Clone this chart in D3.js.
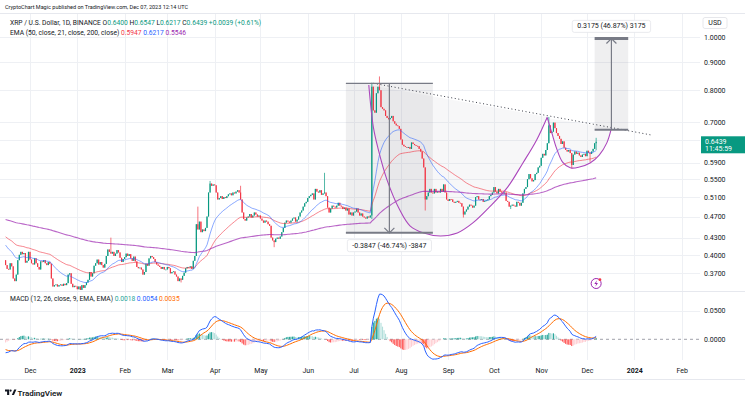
<!DOCTYPE html>
<html><head><meta charset="utf-8">
<script src="https://cdn.jsdelivr.net/npm/d3@7"></script>
<style>
body{margin:0;background:#fff;overflow:hidden}
svg{display:block;font-family:Roboto,"Noto Sans",sans-serif}
</style>
</head><body>
<svg id="c" width="745" height="399"></svg>
<script>
// ---------------- DATA ----------------
const startDate = "2022-11-15";
const firstOpen = 0.391;
const closeNov22 = [0.383,0.377,0.376,0.386,0.381,0.362,0.358,0.368,0.391,0.400,0.405,0.401,0.403,0.387,0.390,0.405];
const closeDec22 = [0.392,0.386,0.384,0.394,0.386,0.380,0.376,0.389,0.388,0.391,0.386,0.383,0.388,0.385,0.362,0.350,0.352,0.353,0.350,0.352,0.353,0.351,0.354,0.352,0.355,0.368,0.370,0.354,0.349,0.351,0.350];
const closeJan23 = [0.346,0.350,0.345,0.352,0.348,0.352,0.356,0.360,0.372,0.365,0.370,0.382,0.386,0.392,0.384,0.388,0.383,0.379,0.385,0.398,0.409,0.405,0.402,0.405,0.398,0.402,0.408,0.404,0.395,0.388,0.393];
const closeFeb23 = [0.396,0.402,0.398,0.401,0.394,0.390,0.397,0.389,0.380,0.378,0.379,0.376,0.368,0.372,0.385,0.382,0.394,0.398,0.396,0.393,0.388,0.384,0.382,0.380,0.377,0.380,0.376,0.376];
const closeMar23 = [0.380,0.378,0.370,0.372,0.373,0.368,0.365,0.358,0.362,0.360,0.366,0.371,0.378,0.380,0.379,0.381,0.377,0.390,0.398,0.455,0.445,0.460,0.440,0.445,0.442,0.448,0.470,0.520,0.540,0.535,0.538];
const closeApr23 = [0.536,0.520,0.505,0.508,0.512,0.506,0.510,0.508,0.512,0.516,0.518,0.514,0.520,0.518,0.522,0.525,0.520,0.505,0.478,0.465,0.462,0.468,0.470,0.475,0.468,0.472,0.478,0.474,0.470,0.472];
const closeMay23 = [0.466,0.462,0.458,0.462,0.460,0.455,0.452,0.430,0.425,0.422,0.428,0.430,0.428,0.432,0.440,0.448,0.458,0.462,0.460,0.458,0.462,0.466,0.468,0.460,0.464,0.470,0.478,0.482,0.490,0.497,0.500];
const closeJun23 = [0.508,0.512,0.515,0.518,0.505,0.528,0.522,0.520,0.525,0.515,0.518,0.520,0.512,0.488,0.478,0.486,0.492,0.490,0.488,0.492,0.498,0.492,0.490,0.485,0.488,0.482,0.486,0.474,0.478,0.472];
const closeJul23 = [0.478,0.480,0.486,0.478,0.472,0.476,0.470,0.468,0.466,0.470,0.468,0.472,0.812,0.735,0.728,0.790,0.812,0.800,0.745,0.740,0.735,0.718,0.712,0.708,0.712,0.718,0.702,0.695,0.690,0.688,0.680];
const closeAug23 = [0.650,0.636,0.632,0.630,0.628,0.630,0.625,0.642,0.638,0.635,0.633,0.632,0.625,0.618,0.600,0.578,0.505,0.512,0.520,0.528,0.520,0.518,0.528,0.520,0.522,0.520,0.528,0.522,0.538,0.520,0.505];
const closeSep23 = [0.502,0.506,0.505,0.500,0.498,0.500,0.502,0.498,0.497,0.490,0.474,0.480,0.484,0.490,0.494,0.492,0.488,0.492,0.510,0.512,0.505,0.504,0.506,0.500,0.502,0.503,0.505,0.512,0.515,0.520];
const closeOct23 = [0.532,0.522,0.518,0.528,0.522,0.520,0.518,0.520,0.502,0.500,0.490,0.492,0.494,0.492,0.490,0.500,0.498,0.492,0.498,0.518,0.528,0.532,0.550,0.562,0.552,0.545,0.548,0.562,0.565,0.578,0.582];
const closeNov23 = [0.602,0.612,0.608,0.622,0.640,0.690,0.668,0.672,0.698,0.682,0.668,0.660,0.652,0.638,0.645,0.628,0.622,0.618,0.622,0.614,0.584,0.610,0.618,0.612,0.615,0.608,0.604,0.610,0.612,0.606];
const closeDec23 = [0.620,0.615,0.612,0.618,0.625,0.640,0.6439];
// notable wicks: [date, high, low]
const wicks = [
 ["2023-01-23",0.430,null],["2023-03-10",null,0.356],["2023-03-21",0.490,null],["2023-03-29",0.546,null],
 ["2023-04-18",0.535,null],["2023-05-10",null,0.413],["2023-06-12",0.565,null],["2023-07-13",0.826,0.465],
 ["2023-07-18",0.848,null],["2023-08-17",null,0.482],["2023-09-11",null,0.468],["2023-10-12",null,0.485],
 ["2023-11-06",0.715,null],["2023-11-21",null,0.575],["2023-12-03",null,0.592],["2023-12-07",0.6547,0.6217]
];
// EMA seeds (21, 50, 200) and MACD seeds (ema12, ema26, signal) read at first bar
const emaSeeds = [0.420, 0.4335, 0.465];
const macdSeeds = [0.3935, 0.418, -0.0166];
// axis ticks
const priceTicks = [1.0,0.9,0.8,0.7,0.65,0.59,0.55,0.51,0.47,0.43,0.40,0.37];
const macdTicks = [0.05, 0];
const monthTicks = ["2022-12-01","2023-01-01","2023-02-01","2023-03-01","2023-04-01","2023-05-01","2023-06-01","2023-07-01","2023-08-01","2023-09-01","2023-10-01","2023-11-01","2023-12-01","2024-01-01","2024-02-01"];
const monthLabels = ["Dec","2023","Feb","Mar","Apr","May","Jun","Jul","Aug","Sep","Oct","Nov","Dec","2024","Feb"];
// drawings
const cupPoints = [["2023-07-11",0.818],["2023-07-14",0.685],["2023-07-17",0.627],["2023-07-23",0.548],["2023-07-31",0.485],["2023-08-07",0.452],["2023-08-16",0.4385],["2023-08-27",0.433],["2023-09-07",0.4385],["2023-09-17",0.457],["2023-09-28",0.489],["2023-10-10",0.532],["2023-10-20",0.589],["2023-10-29",0.649],["2023-11-05",0.715]];
const handlePoints = [["2023-11-05",0.712],["2023-11-08",0.668],["2023-11-11",0.627],["2023-11-15",0.591],["2023-11-20",0.577],["2023-11-26",0.579],["2023-12-03",0.589],["2023-12-09",0.609],["2023-12-14",0.641],["2023-12-17",0.682]];
const trendLine = [["2023-07-14",0.824],["2024-01-12",0.6627]];
const measureDown = ["2023-06-26","2023-08-22",0.8235,0.4388];
const measureUp = ["2023-12-06","2023-12-28",0.6774,0.9949];
const measureDownLabel = "-0.3847 (-46.74%) -3847";
const measureUpLabel = "0.3175 (46.87%) 3175";
const headerText = "CryptoChart Magic published on TradingView.com, Dec 07, 2023 12:14 UTC";
const lastOHLC = [0.6400,0.6547,0.6217,0.6439];

// ---------------- BUILD ----------------
const parse = d3.utcParse("%Y-%m-%d");
const closes = [].concat(closeNov22,closeDec22,closeJan23,closeFeb23,closeMar23,closeApr23,closeMay23,closeJun23,closeJul23,closeAug23,closeSep23,closeOct23,closeNov23,closeDec23);
const day0 = parse(startDate);
const candles = closes.map((c,i)=>{
  const o = i===0 ? firstOpen : closes[i-1];
  return {date:d3.utcDay.offset(day0,i), o, c, h:Math.max(o,c), l:Math.min(o,c)};
});
wicks.forEach(([d,h,l])=>{
  const t=+parse(d); const k=candles.find(q=>+q.date===t);
  if(k){ if(h!=null)k.h=Math.max(k.h,h); if(l!=null)k.l=Math.min(k.l,l); }
});
const lastC = candles[candles.length-1];
lastC.o=lastOHLC[0]; lastC.h=lastOHLC[1]; lastC.l=lastOHLC[2]; lastC.c=lastOHLC[3];

function ema(vals, period, seed){ let e=seed; const k=2/(period+1); return vals.map(v=>(e=e+(v-e)*k)); }
const ema21 = ema(closes,21,emaSeeds[0]);
const ema50 = ema(closes,50,emaSeeds[1]);
const ema200 = ema(closes,200,emaSeeds[2]);
const e12 = ema(closes,12,macdSeeds[0]), e26 = ema(closes,26,macdSeeds[1]);
const macd = e12.map((v,i)=>v-e26[i]);
const signal = ema(macd,9,macdSeeds[2]);
const hist = macd.map((v,i)=>v-signal[i]);

// ---------------- SCALES ----------------
const svg = d3.select("#c");
const plotR = 700, mainTop = 13.5, mainBot = 291.5, macdTop = 292, macdBot = 360;
const x = d3.scaleUtc().domain([parse("2022-12-01"),parse("2023-12-01")]).range([30,587]);
const y = d3.scaleLog().domain([1.0,0.37]).range([37.3,273.3]);
const ym = d3.scaleLinear().domain([0,0.05]).range([339.3,310.7]);
const px = d=>x(parse(d));

const defs = svg.append("defs");
defs.append("clipPath").attr("id","cm").append("rect").attr("x",0).attr("y",mainTop).attr("width",plotR).attr("height",mainBot-mainTop);
defs.append("clipPath").attr("id","cd").append("rect").attr("x",0).attr("y",macdTop).attr("width",plotR).attr("height",macdBot-macdTop);

// ---------------- GRID ----------------
const grid = svg.append("g").attr("stroke","#eef0f4").attr("stroke-width",1);
grid.selectAll("line.v").data(monthTicks).join("line")
  .attr("x1",d=>Math.round(px(d))+0.5).attr("x2",d=>Math.round(px(d))+0.5).attr("y1",mainTop).attr("y2",macdBot);
grid.selectAll("line.h").data(priceTicks).join("line")
  .attr("x1",0).attr("x2",plotR).attr("y1",d=>Math.round(y(d))+0.5).attr("y2",d=>Math.round(y(d))+0.5);
grid.append("line").attr("x1",0).attr("x2",plotR).attr("y1",Math.round(ym(0.05))+0.5).attr("y2",Math.round(ym(0.05))+0.5);
svg.append("line").attr("x1",0).attr("x2",745).attr("y1",mainTop).attr("y2",mainTop).attr("stroke","#e6e8ee");
svg.append("line").attr("x1",0).attr("x2",745).attr("y1",mainBot).attr("y2",mainBot).attr("stroke","#e6e8ee");
svg.append("line").attr("x1",0).attr("x2",745).attr("y1",379.5).attr("y2",379.5).attr("stroke","#e6e8ee");

// ---------------- MAIN PANE ----------------
const main = svg.append("g").attr("clip-path","url(#cm)");
const shade = "#787b86";
[measureDown,measureUp].forEach(m=>{
  main.append("rect").attr("x",px(m[0])).attr("width",px(m[1])-px(m[0]))
    .attr("y",y(Math.max(m[2],m[3]))).attr("height",Math.abs(y(m[3])-y(m[2])))
    .attr("fill",shade).attr("fill-opacity",0.12);
});
const curve = d3.line().x(d=>px(d[0])).y(d=>y(d[1])).curve(d3.curveCatmullRom.alpha(0.5));
[cupPoints,handlePoints].forEach(p=>{
  main.append("path").attr("d",curve(p)+"Z").attr("fill","#9c9aa8").attr("fill-opacity",0.08);
});
const bw = 1.15;
const cg = main.append("g");
cg.selectAll("line").data(candles).join("line")
  .attr("x1",d=>x(d.date)).attr("x2",d=>x(d.date)).attr("y1",d=>y(d.h)).attr("y2",d=>y(d.l))
  .attr("stroke",d=>d.c>=d.o?"#089981":"#F23645").attr("stroke-width",0.7);
cg.selectAll("rect").data(candles).join("rect")
  .attr("x",d=>x(d.date)-bw/2).attr("width",bw)
  .attr("y",d=>y(Math.max(d.o,d.c))).attr("height",d=>Math.max(0.8,Math.abs(y(d.o)-y(d.c))))
  .attr("fill",d=>d.c>=d.o?"#089981":"#F23645");
const lineE = arr=>d3.line().x((d,i)=>x(candles[i].date)).y(d=>y(d))(arr);
main.append("path").attr("d",lineE(ema50)).attr("fill","none").attr("stroke","#F23645").attr("stroke-opacity",0.6).attr("stroke-width",1);
main.append("path").attr("d",lineE(ema21)).attr("fill","none").attr("stroke","#2962FF").attr("stroke-opacity",0.55).attr("stroke-width",1);
main.append("path").attr("d",lineE(ema200)).attr("fill","none").attr("stroke","#9C27B0").attr("stroke-opacity",0.7).attr("stroke-width",1.1);
[cupPoints,handlePoints].forEach(p=>{
  main.append("path").attr("d",curve(p)).attr("fill","none").attr("stroke","#AB47BC").attr("stroke-width",1.1);
});
main.append("line").attr("x1",px(trendLine[0][0])).attr("y1",y(trendLine[0][1]))
  .attr("x2",px(trendLine[1][0])).attr("y2",y(trendLine[1][1]))
  .attr("stroke","#3a3d48").attr("stroke-width",1).attr("stroke-dasharray","1,2.6");
function measure(m, label, up, w){
  const x0=px(m[0]), x1=px(m[1]), xm=(x0+x1)/2, yA=y(m[2]), yB=y(m[3]);
  const g = svg.append("g").attr("stroke","#787b86").attr("fill","none");
  g.append("line").attr("x1",x0).attr("x2",x1).attr("y1",yA).attr("y2",yA).attr("stroke-width",w);
  g.append("line").attr("x1",x0).attr("x2",x1).attr("y1",yB).attr("y2",yB).attr("stroke-width",w+0.6);
  g.append("line").attr("x1",xm).attr("x2",xm).attr("y1",yA).attr("y2",yB).attr("stroke-width",1.2);
  const s = up?1:-1;
  g.append("path").attr("d",`M${xm-5},${yB+s*5}L${xm},${yB}L${xm+5},${yB+s*5}`).attr("stroke-width",1.2);
  const ty = up? yB-12 : yB+13;
  const t = svg.append("text").attr("x",xm).attr("y",ty).attr("text-anchor","middle")
    .attr("dominant-baseline","middle").attr("font-size",7).attr("fill","#131722").text(label);
  const bb = t.node().getBBox();
  svg.insert("rect", ()=>t.node()).attr("x",bb.x-5).attr("y",bb.y-2).attr("width",bb.width+10).attr("height",bb.height+4)
    .attr("rx",2).attr("fill","#fff").attr("stroke","#e3e5ea").attr("stroke-width",0.8);
}
measure(measureDown, measureDownLabel, false, 1.3);
measure(measureUp, measureUpLabel, true, 2.2);

const ix = x(lastC.date), iy = mainBot-8;
svg.append("circle").attr("cx",ix).attr("cy",iy).attr("r",5).attr("fill","#fff").attr("stroke","#9C27B0").attr("stroke-width",1);
svg.append("path").attr("d",`M${ix+0.8},${iy-3.2}L${ix-1.8},${iy+0.4}L${ix},${iy+0.4}L${ix-0.8},${iy+3.2}L${ix+1.8},${iy-0.4}L${ix},${iy-0.4}Z`).attr("fill","#9C27B0");
svg.append("circle").attr("cx",ix+3.8).attr("cy",iy-3.8).attr("r",1.4).attr("fill","#F23645");

// ---------------- MACD PANE ----------------
const md = svg.append("g").attr("clip-path","url(#cd)");
md.append("line").attr("x1",0).attr("x2",plotR).attr("y1",ym(0)).attr("y2",ym(0))
  .attr("stroke","#787b86").attr("stroke-opacity",0.7).attr("stroke-dasharray","3,3");
md.selectAll("rect").data(hist).join("rect")
  .attr("x",(d,i)=>x(candles[i].date)-0.55).attr("width",1.1)
  .attr("y",d=>Math.min(ym(d),ym(0))).attr("height",d=>Math.abs(ym(d)-ym(0)))
  .attr("fill",(d,i)=>{ const p=i?hist[i-1]:d;
    return d>=0 ? (d>p?"#26A69A":"#B2DFDB") : (d<p?"#FF5252":"#FFCDD2"); });
const lineM = arr=>d3.line().x((d,i)=>x(candles[i].date)).y(d=>ym(d))(arr);
md.append("path").attr("d",lineM(signal)).attr("fill","none").attr("stroke","#FF6D00").attr("stroke-width",1);
md.append("path").attr("d",lineM(macd)).attr("fill","none").attr("stroke","#2962FF").attr("stroke-width",1);

// ---------------- AXES ----------------
const fmt = d3.format(".4f");
const pa = svg.append("g").attr("transform","translate(704,0)")
  .call(d3.axisRight(y).tickValues(priceTicks).tickFormat(fmt).tickSize(0).tickPadding(0));
const ma = svg.append("g").attr("transform","translate(704,0)")
  .call(d3.axisRight(ym).tickValues(macdTicks).tickFormat(fmt).tickSize(0).tickPadding(0));
const ta = svg.append("g").attr("transform","translate(0,368)")
  .call(d3.axisBottom(x).tickValues(monthTicks.map(parse)).tickFormat((d,i)=>monthLabels[i]).tickSize(0).tickPadding(0));
[pa,ma,ta].forEach(a=>{ a.select(".domain").remove(); a.selectAll("text").attr("font-size",7).attr("fill","#131722").attr("font-family","Roboto, sans-serif"); });
ta.selectAll("text").attr("font-weight",(d,i)=>/^\d{4}$/.test(monthLabels[i])?"bold":"normal");

svg.append("rect").attr("x",703).attr("y",17.5).attr("width",24).attr("height",11).attr("rx",2)
  .attr("fill","#fff").attr("stroke","#dfe1e6").attr("stroke-width",0.8);
svg.append("text").attr("x",715).attr("y",23.3).attr("text-anchor","middle").attr("dominant-baseline","middle")
  .attr("font-size",7).attr("fill","#131722").text("USD");

const cy = y(lastC.c);
svg.append("rect").attr("x",701).attr("y",cy-5.5).attr("width",44).attr("height",17).attr("fill","#089981");
svg.append("text").attr("x",705).attr("y",cy).attr("dominant-baseline","middle").attr("font-size",7).attr("fill","#fff").text(fmt(lastC.c));
svg.append("text").attr("x",705).attr("y",cy+7.5).attr("dominant-baseline","middle").attr("font-size",7).attr("fill","#fff").text("11:45:59");

// ---------------- LEGENDS ----------------
svg.append("text").attr("x",5).attr("y",8.8).attr("font-size",5.5).attr("fill","#131722").text(headerText);
const L1 = svg.append("text").attr("x",10).attr("y",25.2).attr("font-size",6.7).attr("fill","#131722");
L1.append("tspan").text("XRP / U.S. Dollar, 1D, BINANCE ");
[["O",lastOHLC[0]],["H",lastOHLC[1]],["L",lastOHLC[2]],["C",lastOHLC[3]]].forEach(([k,v])=>{
  L1.append("tspan").text(" "+k); L1.append("tspan").attr("fill","#089981").text(fmt(v));
});
L1.append("tspan").attr("fill","#089981").text(" +0.0039 (+0.61%)");
const L2 = svg.append("text").attr("x",10).attr("y",34.8).attr("font-size",6.7).attr("fill","#131722");
L2.append("tspan").text("EMA (50, close, 21, close, 200, close) ");
L2.append("tspan").attr("fill","#F23645").text(" 0.5947");
L2.append("tspan").attr("fill","#2962FF").text(" 0.6217");
L2.append("tspan").attr("fill","#9C27B0").text(" 0.5546");
const L3 = svg.append("text").attr("x",10).attr("y",300.8).attr("font-size",6.7).attr("fill","#131722");
L3.append("tspan").text("MACD (12, 26, close, 9, EMA, EMA) ");
L3.append("tspan").attr("fill","#26A69A").text(" 0.0018");
L3.append("tspan").attr("fill","#2962FF").text(" 0.0054");
L3.append("tspan").attr("fill","#FF6D00").text(" 0.0035");

svg.append("path").attr("d","M5,389.5h4.2v5.5h-2.1v-3.6h-2.1z M11.8,395l2.4-5.5h2.2l-2.4,5.5z").attr("fill","#131722");
svg.append("circle").attr("cx",10.6).attr("cy",390.6).attr("r",1.1).attr("fill","#131722");
svg.append("text").attr("x",17.5).attr("y",395.5).attr("font-size",8).attr("font-weight",600).attr("fill","#131722").text("TradingView");
</script>
</body></html>
